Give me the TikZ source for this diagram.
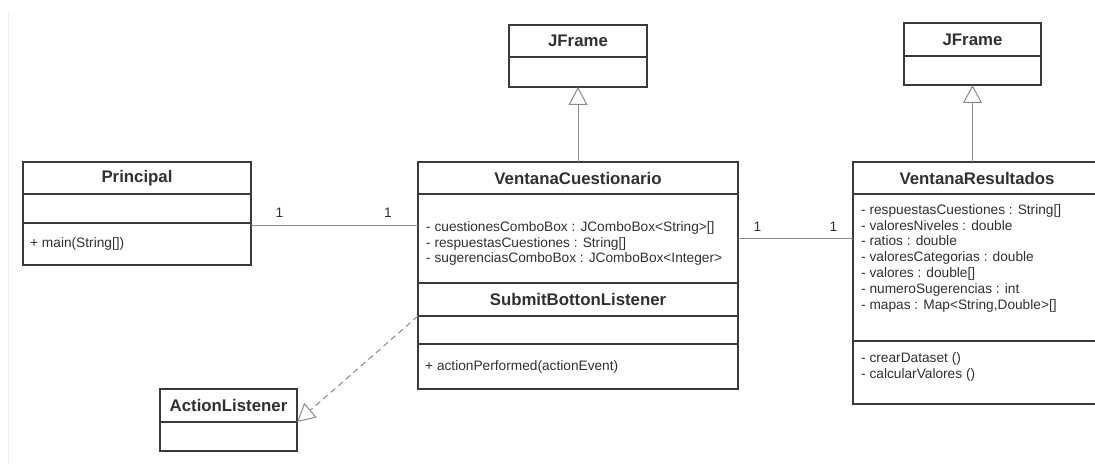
\documentclass[tikz,border=0pt]{standalone}
\usepackage{fontspec}
\setmainfont{Liberation Sans}
\usepackage{xcolor}
\definecolor{boxline}{HTML}{3A3A3A}
\definecolor{connline}{HTML}{8A8A8A}
\definecolor{umltext}{HTML}{303030}
\usetikzlibrary{arrows.meta,positioning}
\newcommand{\umlheadfont}{\fontsize{16.8}{19}\selectfont\bfseries}
\newcommand{\umlmemberfont}{\fontsize{13.7}{15.9}\selectfont}
\tikzset{
  umlhead/.style = {draw=boxline,line width=1.5pt,outer sep=0pt,inner sep=0pt,
                    anchor=north west,font=\umlheadfont,text=umltext},
  umlpart/.style = {draw=boxline,line width=1.5pt,outer sep=0pt,inner sep=0pt},
  member/.style  = {font=\umlmemberfont,text=umltext,align=left,inner sep=0pt},
  mult/.style    = {font=\umlmemberfont,text=umltext,inner sep=0pt},
  assoc/.style   = {draw=connline,line width=1pt},
  inherit/.style = {assoc,-{Triangle[open,length=18pt,width=19pt]}},
  realize/.style = {inherit,dash pattern=on 6pt off 4pt},
}

\begin{document}
\begin{tikzpicture}[x=1pt,y=-1pt]
  \path[use as bounding box,clip] (0,0) rectangle (1095,468);
  % faint rule at the left edge
  \draw[black!7,line width=1pt] (8,12) -- (8,464);

  % ---- Principal ----
  \node[umlhead,minimum width=228pt,minimum height=32pt] (prHead) at (23,162) {Principal};
  \node[umlpart,minimum width=228pt,minimum height=29pt,below=0pt of prHead] (prAttr) {};
  \node[umlpart,minimum width=228pt,minimum height=42pt,below=0pt of prAttr] (prOps) {};
  \node[member,right=7pt of prOps.west] (prOpsTxt) {+ main(String[])};

  % ---- VentanaCuestionario + SubmitBottonListener ----
  \node[umlhead,minimum width=320pt,minimum height=32pt] (vcHead) at (418,162) {VentanaCuestionario};
  \node[umlpart,minimum width=320pt,minimum height=89pt,below=0pt of vcHead] (vcAttr) {};
  \node[member,right=8pt of vcAttr.west,yshift=-5pt] (vcAttrTxt)
      {- cuestionesComboBox : JComboBox<String>[]\\
       - respuestasCuestiones : String[]\\
       - sugerenciasComboBox : JComboBox<Integer>};
  \node[umlhead,minimum width=320pt,minimum height=33pt,below=0pt of vcAttr] (sblHead) {SubmitBottonListener};
  \node[umlpart,minimum width=320pt,minimum height=28pt,below=0pt of sblHead] (sblAttr) {};
  \node[umlpart,minimum width=320pt,minimum height=45pt,below=0pt of sblAttr] (sblOps) {};
  \node[member,right=7pt of sblOps.west] (sblOpsTxt) {+ actionPerformed(actionEvent)};

  % ---- VentanaResultados ----
  \node[umlhead,minimum width=248pt,minimum height=32pt] (vrHead) at (853,162) {VentanaResultados};
  \node[umlpart,minimum width=248pt,minimum height=147pt,below=0pt of vrHead] (vrAttr) {};
  \node[umlpart,minimum width=248pt,minimum height=63pt,below=0pt of vrAttr] (vrOps) {};
  \node[member,anchor=north west] (vrAttrTxt) at ([xshift=8pt,yshift=-10pt]vrAttr.north west)
      {- respuestasCuestiones : String[]\\
       - valoresNiveles : double\\
       - ratios : double\\
       - valoresCategorias : double\\
       - valores : double[]\\
       - numeroSugerencias : int\\
       - mapas : Map<String,Double>[]};
  \node[member,anchor=north west] (vrOpsTxt) at ([xshift=8pt,yshift=-11pt]vrOps.north west)
      {- crearDataset ()\\
       - calcularValores ()};

  % ---- JFrame (x2) and ActionListener ----
  \node[umlhead,minimum width=138pt,minimum height=32pt] (jfaHead) at (509,25) {JFrame};
  \node[umlpart,minimum width=138pt,minimum height=30pt,below=0pt of jfaHead] (jfaAttr) {};
  \node[umlhead,minimum width=137pt,minimum height=33pt] (jfbHead) at (904,23) {JFrame};
  \node[umlpart,minimum width=137pt,minimum height=29pt,below=0pt of jfbHead] (jfbAttr) {};
  \node[umlhead,minimum width=137pt,minimum height=33pt] (alHead) at (160,389) {ActionListener};
  \node[umlpart,minimum width=137pt,minimum height=29pt,below=0pt of alHead] (alAttr) {};

  % ---- Relations ----
  \draw[inherit] (vcHead.north) -- (jfaAttr.south);
  \draw[inherit] (vrHead.north -| jfbAttr.south) -- (jfbAttr.south);
  \coordinate (prLink) at ([yshift=-2pt]prOps.north east);
  \draw[assoc] (prLink) -- node[mult,pos=0.17,above=7pt] {1}
                           node[mult,pos=0.82,above=7pt] {1} (prLink -| vcAttr.west);
  \draw[assoc] (vcAttr.east) -- node[mult,pos=0.17,above=7pt] {1}
                                node[mult,pos=0.83,above=7pt] {1} (vcAttr.east -| vrAttr.west);
  \draw[realize] (sblAttr.north west) -- (alHead.south east);
\end{tikzpicture}
\end{document}
